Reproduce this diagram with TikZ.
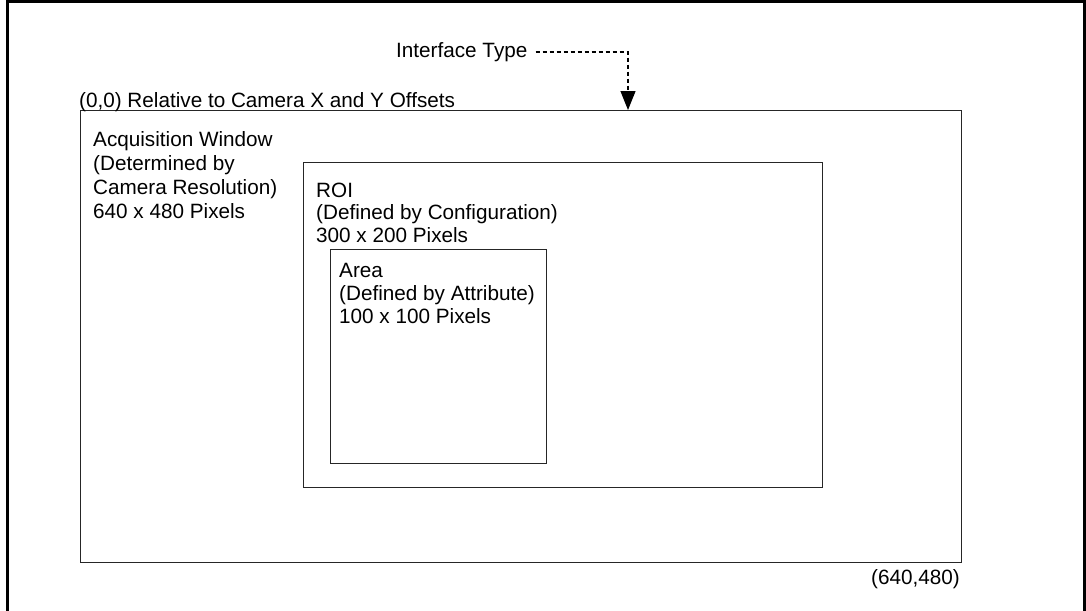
\documentclass[tikz,border=0pt]{standalone}
\usepackage{fontspec}
\setmainfont{Liberation Sans}
\usetikzlibrary{arrows.meta}
\begin{document}
\begin{tikzpicture}[x=1pt,y=-1pt,
  lbl/.style={anchor=base west, inner sep=0pt, align=left, font=\fontsize{20.7}{23}\selectfont},
  box/.style={draw=black!85, line width=1.4pt, inner sep=0pt, anchor=north west},
  frame/.style={line width=3pt},
  pointer/.style={dashed, dash pattern=on 4pt off 3pt, line width=1.2pt, -{Triangle[length=19pt,width=15pt]}},
]
\useasboundingbox (0,0) rectangle (1086,610);
\draw[frame] (7.5,612) -- (7.5,1.5) -- (1084.5,1.5) -- (1084.5,612);

\node[box, minimum width=881pt, minimum height=452pt] (acq) at (80,110) {};
\node[box, minimum width=519pt, minimum height=325pt] (roi) at (303,162) {};
\node[box, minimum width=216pt, minimum height=214pt] (area) at (330,249) {};

\node[lbl] (origin) at (79,107) {(0,0) Relative to Camera X and Y Offsets};
% multi-line labels: base anchor sits on the last line's baseline
\node[lbl, font=\fontsize{20.7}{23.9}\selectfont] (acqtext) at (93,218.3) {Acquisition Window\\(Determined by\\Camera Resolution)\\640 x 480 Pixels};
\node[lbl, font=\fontsize{20.7}{22.8}\selectfont] (roitext) at (316,242.7) {ROI\\(Defined by Configuration)\\300 x 200 Pixels};
\node[lbl] (areatext) at (339,323) {Area\\(Defined by Attribute)\\100 x 100 Pixels};
\node[lbl, anchor=base east] (corner) at (960,584) {(640,480)};
\node[lbl] (itype) at (396,58) {Interface Type};

\coordinate (tip) at (628,110);
\draw[pointer] ([xshift=8pt,yshift=6pt]itype.base east) -| (tip);
\end{tikzpicture}
\end{document}
